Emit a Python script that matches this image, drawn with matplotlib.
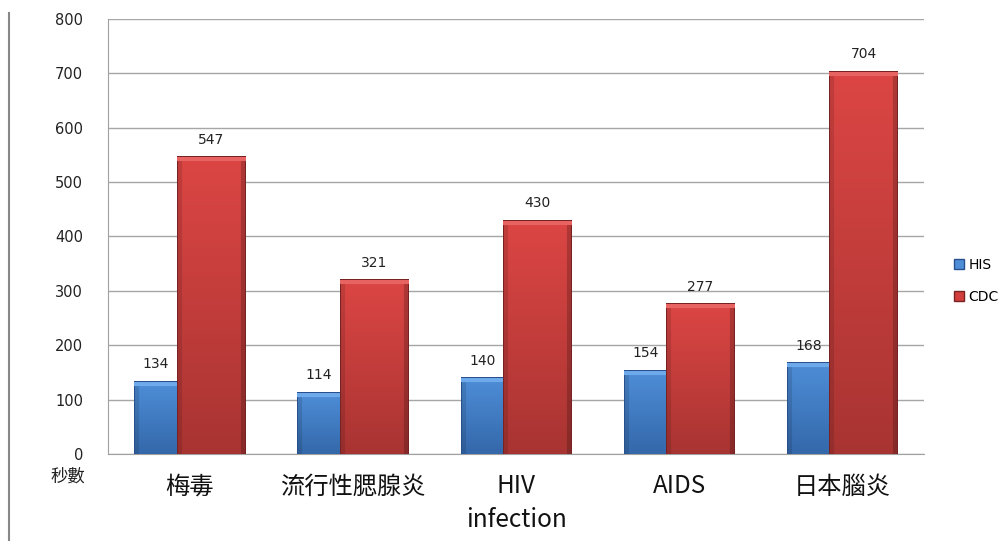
import numpy as np
import matplotlib
matplotlib.use("Agg")
import matplotlib.pyplot as plt
from matplotlib.patches import Patch
from matplotlib.lines import Line2D

# dane z wykresu
categories = ["梅毒", "流行性腮腺炎", "HIV\ninfection", "AIDS", "日本腦炎"]
his_values = [134, 114, 140, 154, 168]
cdc_values = [547, 321, 430, 277, 704]
series_names = ["HIS", "CDC"]
y_ticks = [0, 100, 200, 300, 400, 500, 600, 700, 800]

plt.rcParams['font.family'] = ['DejaVu Sans']
cjk = ['Noto Sans CJK TC', 'DejaVu Sans']

fig = plt.figure(figsize=(10.03, 5.41), dpi=100)
ax = fig.add_axes([108 / 1003, 87 / 541, 816 / 1003, 435 / 541])

x = np.arange(len(categories))
width = 0.42
off = 0.13


def bar_image(top, bottom, edge, light, wpx, hpx):
    # prosty gradient z "fazowaniem" krawedzi
    hpx = max(int(hpx), 2)
    t = np.linspace(0, 1, hpx)[:, None, None]
    img = np.array(top)[None, None, :] * (1 - t) + np.array(bottom)[None, None, :] * t
    img = np.repeat(img, wpx, axis=1)
    b = 5
    img[:, :b] = img[:, :b] * 0.88
    img[:, -b:] = img[:, -b:] * 0.8
    img[:, -1:] = np.array(edge)
    img[:, :1] = np.array(edge)
    img[:b, :] = np.array(light)
    img[:1, :] = np.array(edge)
    return np.clip(img / 255.0, 0, 1)


px_per_unit = 435 / 800
bar_px = 68

blue = dict(top=(78, 142, 216), bottom=(52, 104, 170), edge=(40, 80, 140), light=(110, 170, 235))
red = dict(top=(220, 70, 68), bottom=(168, 52, 50), edge=(120, 35, 35), light=(232, 100, 98))

for xi, v in zip(x, his_values):
    img = bar_image(blue['top'], blue['bottom'], blue['edge'], blue['light'], bar_px, v * px_per_unit)
    ax.imshow(img, extent=(xi - off - width / 2, xi - off + width / 2, 0, v),
              aspect='auto', zorder=3, interpolation='bilinear')
for xi, v in zip(x, cdc_values):
    img = bar_image(red['top'], red['bottom'], red['edge'], red['light'], bar_px, v * px_per_unit)
    ax.imshow(img, extent=(xi + off - width / 2, xi + off + width / 2, 0, v),
              aspect='auto', zorder=4, interpolation='bilinear')

# etykiety wartosci
for xi, v in zip(x, his_values):
    ax.text(xi - 0.207, v + 18, str(v), ha='center', va='bottom', fontsize=10, color='#222222', zorder=5)
for xi, v in zip(x, cdc_values):
    ax.text(xi + off, v + 18, str(v), ha='center', va='bottom', fontsize=10, color='#222222', zorder=5)

ax.set_xlim(-0.5, len(categories) - 0.5)
ax.set_ylim(0, 800)
ax.set_yticks(y_ticks)
ax.set_yticklabels([str(t) for t in y_ticks], fontsize=10.5, color='#222222')
ax.tick_params(axis='y', length=0, pad=18)
ax.set_xticks(x)
ax.set_xticklabels(categories, fontsize=17.5, family=cjk, color='#111111', linespacing=1.4)
ax.tick_params(axis='x', length=0, pad=14)
ax.grid(axis='y', color='#a6a6a6', linewidth=1.0, zorder=0)
ax.set_axisbelow(True)
for s in ['top', 'right']:
    ax.spines[s].set_visible(False)
ax.spines['left'].set_color('#a0a0a0')
ax.spines['bottom'].set_color('#a0a0a0')

fig.text(68 / 1003, 1 - 477 / 541, "秒數", family=cjk, fontsize=12.5, ha='center', va='center', color='#222222')

# legenda
handles = [Patch(facecolor=(78 / 255, 142 / 255, 216 / 255), edgecolor=(40 / 255, 80 / 255, 140 / 255)),
           Patch(facecolor=(210 / 255, 62 / 255, 60 / 255), edgecolor=(120 / 255, 35 / 255, 35 / 255))]
fig.legend(handles, series_names, loc='center left', bbox_to_anchor=(942 / 1003, 1 - 281 / 541),
           frameon=False, fontsize=10, handlelength=0.7, handleheight=0.7, handletextpad=0.3,
           labelspacing=1.3)

# pionowa linia po lewej
fig.add_artist(Line2D([9 / 1003, 9 / 1003], [0, 1 - 13 / 541], color='#888888', linewidth=1.5))

fig.savefig("out.png", dpi=100)
